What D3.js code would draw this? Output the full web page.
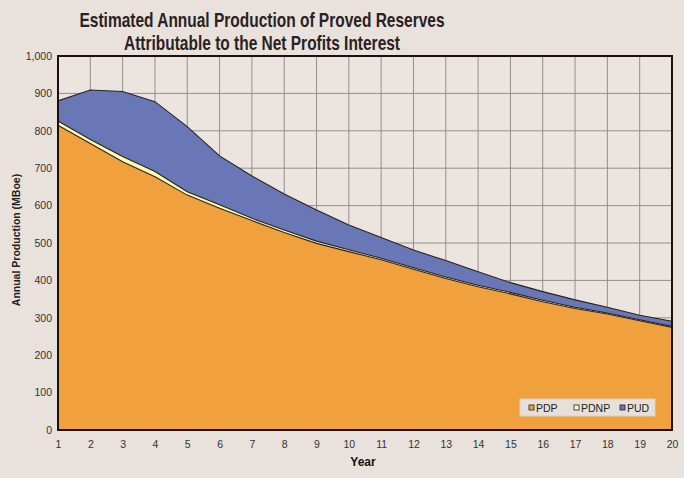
<!DOCTYPE html>
<html><head><meta charset="utf-8">
<script src="https://cdn.jsdelivr.net/npm/d3@7"></script>
<style>html,body{margin:0;padding:0;background:#e8e1dc;}svg{display:block;}</style>
</head><body>
<svg id="chart" width="684" height="478"></svg>
<script>
const years = [1,2,3,4,5,6,7,8,9,10,11,12,13,14,15,16,17,18,19,20];
const pdp  = [815,766,717,677,628,593,560,528,499,477,455,430,405,383,364,343,325,310,292,274];
const pdnp = [11,11,14,14,9,9,6,7,6,5,4,4,4,4,4,4,3,3,3,3];
const pud  = [54,132,174,187,174,131,113,96,83,66,56,47,44,36,26,23,20,15,12,14];
const yTicks = [0,100,200,300,400,500,600,700,800,900,1000];
const seriesNames = ["PDP","PDNP","PUD"];
const colors = ["#f0a13e","#fdfdb0","#6a77b6"];
const titleLines = ["Estimated Annual Production of Proved Reserves","Attributable to the Net Profits Interest"];

const svg = d3.select("#chart");
const m = {l:58, t:56, r:672, b:430};
const x = d3.scaleLinear().domain([1,20]).range([m.l, m.r]);
const y = d3.scaleLinear().domain([0,1000]).range([m.b, m.t]);

svg.append("rect").attr("x",m.l).attr("y",m.t).attr("width",m.r-m.l).attr("height",m.b-m.t).attr("fill","#ebe4df");

const g = svg.append("g");
g.selectAll("line.h").data(yTicks).join("line")
  .attr("x1",m.l).attr("x2",m.r).attr("y1",d=>y(d)).attr("y2",d=>y(d))
  .attr("stroke","#948e8a").attr("stroke-width",1);
g.selectAll("line.v").data(years).join("line")
  .attr("x1",d=>x(d)).attr("x2",d=>x(d)).attr("y1",m.t).attr("y2",m.b)
  .attr("stroke","#948e8a").attr("stroke-width",1);

const table = years.map((yr,i)=>({year:yr, PDP:pdp[i], PDNP:pdnp[i], PUD:pud[i]}));
const stack = d3.stack().keys(seriesNames)(table);
const area = d3.area().x(d=>x(d.data.year)).y0(d=>y(d[0])).y1(d=>y(d[1]));
const line = d3.line().x(d=>x(d.data.year)).y(d=>y(d[1]));
svg.append("g").selectAll("path").data(stack).join("path")
  .attr("d",area).attr("fill",(d,i)=>colors[i]);
svg.append("g").selectAll("path").data(stack).join("path")
  .attr("d",line).attr("fill","none").attr("stroke","#2a2222").attr("stroke-width",1.1);

svg.append("rect").attr("x",m.l).attr("y",m.t).attr("width",m.r-m.l).attr("height",m.b-m.t)
  .attr("fill","none").attr("stroke","#1a1010").attr("stroke-width",2);

const yAxis = d3.axisLeft(y).tickValues(yTicks).tickFormat(d3.format(",")).tickSize(0).tickPadding(6);
const ya = svg.append("g").attr("transform",`translate(${m.l},0)`).call(yAxis);
ya.select(".domain").remove();
ya.selectAll("text").attr("font-family","Liberation Sans, Arial, sans-serif").attr("font-size",10.5).attr("fill","#333");

const xAxis = d3.axisBottom(x).tickValues(years).tickFormat(d3.format("d")).tickSize(0).tickPadding(11);
const xa = svg.append("g").attr("transform",`translate(0,${m.b})`).call(xAxis);
xa.select(".domain").remove();
xa.selectAll("text").attr("font-family","Liberation Sans, Arial, sans-serif").attr("font-size",10.5).attr("fill","#333");

svg.append("text").attr("x",363).attr("y",466).attr("text-anchor","middle")
  .attr("font-family","Liberation Sans, Arial, sans-serif").attr("font-weight","bold").attr("font-size",12).attr("fill","#111").text("Year");
svg.append("text").attr("transform","translate(20,240) rotate(-90)").attr("text-anchor","middle")
  .attr("font-family","Liberation Sans, Arial, sans-serif").attr("font-weight","bold").attr("font-size",10.5).attr("fill","#222").text("Annual Production (MBoe)");

const tw = [365, 276];
titleLines.forEach((t,i)=>{
  svg.append("text").attr("x",262).attr("y",27+i*22.5).attr("text-anchor","middle")
    .attr("font-family","Liberation Sans Narrow, Arial Narrow, Liberation Sans, sans-serif")
    .attr("font-weight","bold").attr("font-size",21).attr("fill","#2a2222")
    .attr("textLength",tw[i]).attr("lengthAdjust","spacingAndGlyphs").text(t);
});

const lg = svg.append("g");
lg.append("rect").attr("x",520).attr("y",399).attr("width",135).attr("height",17).attr("fill","#e6dfda").attr("stroke","#d8d0cb");
const lx = [529,574,620];
seriesNames.forEach((s,i)=>{
  lg.append("rect").attr("x",lx[i]).attr("y",405).attr("width",5).attr("height",5).attr("fill",colors[i]).attr("stroke","#222").attr("stroke-width",0.8);
  lg.append("text").attr("x",lx[i]+7).attr("y",411.5).attr("font-family","Liberation Sans, Arial, sans-serif").attr("font-size",10.5).attr("fill","#222").text(s);
});
</script>
</body></html>
